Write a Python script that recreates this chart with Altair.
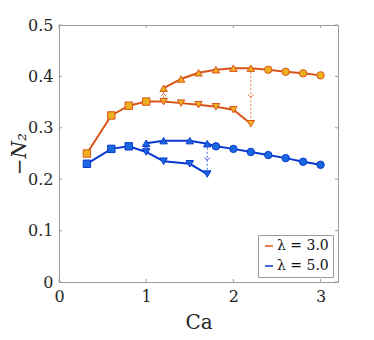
import altair as alt
import pandas as pd

# ---- data ----
series_labels = ["λ = 3.0", "λ = 5.0"]

# lambda = 3.0
o_sq_x = [0.32, 0.6, 0.8, 1.0]
o_sq_y = [0.250, 0.324, 0.343, 0.351]
o_dn_x = [1.2, 1.4, 1.6, 1.8, 2.0, 2.2]
o_dn_y = [0.351, 0.348, 0.345, 0.341, 0.335, 0.308]
o_up_x = [1.2, 1.4, 1.6, 1.8, 2.0, 2.2]
o_up_y = [0.377, 0.395, 0.407, 0.413, 0.416, 0.416]
o_ci_x = [2.4, 2.6, 2.8, 3.0]
o_ci_y = [0.413, 0.409, 0.406, 0.402]

# lambda = 5.0
b_sq_x = [0.32, 0.6, 0.8]
b_sq_y = [0.230, 0.259, 0.264]
b_dn_x = [1.0, 1.2, 1.5, 1.7]
b_dn_y = [0.253, 0.235, 0.230, 0.210]
b_up_x = [1.0, 1.2, 1.5, 1.7]
b_up_y = [0.270, 0.275, 0.275, 0.269]
b_ci_x = [1.8, 2.0, 2.2, 2.4, 2.6, 2.8, 3.0]
b_ci_y = [0.264, 0.259, 0.253, 0.247, 0.241, 0.234, 0.228]

# transition arrows: series, Ca, from, to, direction
arr_series = ["λ = 3.0", "λ = 3.0", "λ = 5.0", "λ = 5.0"]
arr_x = [1.2, 2.2, 1.0, 1.7]
arr_from = [0.351, 0.416, 0.253, 0.269]
arr_to = [0.377, 0.308, 0.270, 0.210]
arr_dir = ["aup", "adown", "aup", "adown"]

x_ticks = [0, 1, 2, 3]
y_ticks = [0, 0.1, 0.2, 0.3, 0.4, 0.5]

# ---- build tables ----
rows = []
def add(series, branch, kind, xs, ys):
    for x, y in zip(xs, ys):
        rows.append(dict(series=series, branch=branch, kind=kind, Ca=x, N=y))

add(series_labels[0], "o_low", "sq", o_sq_x, o_sq_y)
add(series_labels[0], "o_low", "dn", o_dn_x, o_dn_y)
add(series_labels[0], "o_high", "up", o_up_x, o_up_y)
add(series_labels[0], "o_high", "ci", o_ci_x, o_ci_y)
add(series_labels[1], "b_low", "sq", b_sq_x, b_sq_y)
add(series_labels[1], "b_low", "dn", b_dn_x, b_dn_y)
add(series_labels[1], "b_high", "up", b_up_x, b_up_y)
add(series_labels[1], "b_high", "ci", b_ci_x, b_ci_y)
df = pd.DataFrame(rows)

arrows = pd.DataFrame(dict(series=arr_series, Ca=arr_x, y1=arr_from, y2=arr_to, kind=arr_dir))
xt = pd.DataFrame(dict(v=x_ticks))
yt = pd.DataFrame(dict(v=y_ticks))

W, H = 279, 257
FONT = "DejaVu Serif"
LINE = ["#D95319", "#0838D0"]
FACE = ["#EDB120", "#1A68E0"]
AXC = "#9a9a9a"

xs = alt.Scale(domain=[0, 3.2], nice=False, zero=False)
ys = alt.Scale(domain=[0, 0.5], nice=False)
col = alt.Scale(domain=series_labels, range=LINE)

up_path = "M-1,0.5L0,-0.5L1,0.5"
dn_path = "M-1,-0.5L0,0.5L1,-0.5"
shape_scale = alt.Scale(
    domain=["sq", "dn", "up", "ci", "aup", "adown"],
    range=["square", "triangle-down", "triangle-up", "circle", up_path, dn_path],
)

X = alt.X("Ca:Q", scale=xs, title="Ca",
          axis=alt.Axis(values=x_ticks, format="d", labelFlush=False,
                        titleY=40, titleBaseline="middle"))
Y = alt.Y("N:Q", scale=ys, title="−N₂",
          axis=alt.Axis(values=y_ticks, format=".1~f", titleFontStyle="italic",
                        titleX=-40, titleY=H / 2, titleBaseline="middle",
                        titleAngle=270))

legend = alt.Legend(title=None, orient="bottom-right", offset=5,
                    symbolType="stroke", symbolSize=64, symbolStrokeWidth=2,
                    labelOffset=1)
color_enc = alt.Color("series:N", scale=col, legend=legend)

base = alt.Chart(df)

lines = base.mark_line(strokeWidth=2).encode(
    x=X, y=Y,
    color=color_enc,
    detail="branch:N",
)

arr_rules = alt.Chart(arrows).mark_rule(strokeDash=[2, 2], strokeWidth=1, opacity=0.75).encode(
    x=alt.X("Ca:Q", scale=xs),
    y=alt.Y("y1:Q", scale=ys),
    y2="y2:Q",
    color=color_enc,
)

arr_heads = alt.Chart(arrows).transform_calculate(
    mid="(datum.y1 + datum.y2) / 2"
).mark_point(strokeWidth=1, opacity=0.8, size=30).encode(
    x=alt.X("Ca:Q", scale=xs),
    y=alt.Y("mid:Q", scale=ys),
    shape=alt.Shape("kind:N", scale=shape_scale, legend=None),
    color=color_enc,
)

points = base.mark_point(strokeWidth=1, opacity=1, fillOpacity=1, size=55).encode(
    x=alt.X("Ca:Q", scale=xs),
    y=alt.Y("N:Q", scale=ys),
    shape=alt.Shape("kind:N", scale=shape_scale, legend=None),
    stroke=alt.Stroke("series:N", scale=alt.Scale(domain=series_labels, range=LINE), legend=None),
    fill=alt.Fill("series:N", scale=alt.Scale(domain=series_labels, range=FACE), legend=None),
)

tk = dict(color=AXC, strokeWidth=1)
t_bottom = alt.Chart(xt).mark_rule(**tk).encode(
    x=alt.X("v:Q", scale=xs), y=alt.value(H), y2=alt.value(H - 3))
t_top = alt.Chart(xt).mark_rule(**tk).encode(
    x=alt.X("v:Q", scale=xs), y=alt.value(0), y2=alt.value(3))
t_left = alt.Chart(yt).mark_rule(**tk).encode(
    y=alt.Y("v:Q", scale=ys), x=alt.value(0), x2=alt.value(3))
t_right = alt.Chart(yt).mark_rule(**tk).encode(
    y=alt.Y("v:Q", scale=ys), x=alt.value(W), x2=alt.value(W - 3))

chart = alt.layer(
    t_bottom, t_top, t_left, t_right, arr_rules, lines, arr_heads, points
).properties(
    width=W, height=H,
    autosize=alt.AutoSizeParams(type="none"),
    padding={"left": 51, "top": 17, "right": 20, "bottom": 56},
).configure_view(
    stroke=AXC, strokeWidth=1
).configure_axis(
    domain=False, ticks=False, grid=False,
    labelFont=FONT, labelFontSize=16, labelColor="#262626", labelPadding=6,
    titleFont=FONT, titleFontSize=20, titleFontWeight="normal", titleColor="#262626",
).configure_legend(
    labelFont=FONT, labelFontSize=14, labelColor="#111",
    strokeColor=AXC, fillColor="white", padding=4, rowPadding=6,
    cornerRadius=0,
)

chart.save("out.html", embed_options={"renderer": "svg", "actions": False})
